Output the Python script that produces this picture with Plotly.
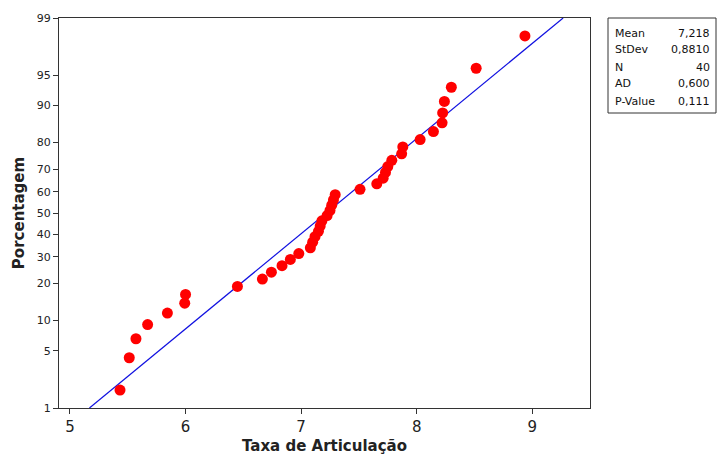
import plotly.graph_objects as go
from statistics import NormalDist

nd = NormalDist()

# Data
taxa = [5.433, 5.513, 5.571, 5.672, 5.843, 5.993, 6.00, 6.449, 6.665, 6.743,
        6.835, 6.907, 6.98, 7.08, 7.10, 7.12, 7.15, 7.165, 7.18, 7.225,
        7.25, 7.265, 7.28, 7.295, 7.51, 7.655, 7.71, 7.73, 7.75, 7.785,
        7.87, 7.88, 8.03, 8.145, 8.22, 8.225, 8.24, 8.30, 8.515, 8.937]
porcentagem = [1.73, 4.21, 6.68, 9.16, 11.63, 14.11, 16.58, 19.06, 21.53, 24.01,
               26.49, 28.96, 31.44, 33.91, 36.39, 38.86, 41.34, 43.81, 46.29, 48.76,
               51.24, 53.71, 56.19, 58.66, 61.14, 63.61, 66.09, 68.56, 71.04, 73.51,
               75.99, 78.47, 80.94, 83.42, 85.89, 88.37, 90.84, 93.32, 95.79, 98.27]

y_ticks = [1, 5, 10, 20, 30, 40, 50, 60, 70, 80, 90, 95, 99]
x_ticks = [5, 6, 7, 8, 9]

stat_names = ["Mean", "StDev", "N", "AD", "P-Value"]
stat_values = ["7,218", "0,8810", "40", "0,600", "0,111"]
mean_val = 7.218
sd_val = 0.8810
line_pcts = [1, 99]


def z(p):
    return nd.inv_cdf(p / 100.0)


fig = go.Figure()

# fitted line
fig.add_trace(go.Scatter(
    x=[mean_val + sd_val * z(p) for p in line_pcts],
    y=[z(p) for p in line_pcts],
    mode="lines", line=dict(color="#1010e0", width=1.2),
    hoverinfo="skip", showlegend=False))

fig.add_trace(go.Scatter(
    x=taxa, y=[z(p) for p in porcentagem],
    mode="markers", marker=dict(color="#ff0000", size=11),
    showlegend=False))

axis_color = "#333333"
fig.update_xaxes(
    range=[4.905, 9.50], tickvals=x_ticks, ticktext=[str(t) for t in x_ticks],
    showgrid=False, zeroline=False, showline=True, linecolor=axis_color, linewidth=1,
    mirror=True, ticks="outside", ticklen=5, tickcolor=axis_color, automargin=False,
    tickfont=dict(family="DejaVu Sans", size=15, color="#222222"),
    title=dict(text="<b>Taxa de Articulação</b>", standoff=6,
               font=dict(family="DejaVu Sans", size=15, color="#222222")))

fig.update_yaxes(
    range=[z(1), z(99)], tickvals=[z(t) for t in y_ticks], ticktext=[str(t) for t in y_ticks],
    showgrid=False, zeroline=False, showline=True, linecolor=axis_color, linewidth=1,
    mirror=True, ticks="outside", ticklen=5, tickcolor=axis_color, automargin=False,
    tickfont=dict(family="DejaVu Sans", size=11, color="#222222"),
    title=dict(text="<b>Porcentagem</b>", standoff=8,
               font=dict(family="DejaVu Sans", size=15, color="#222222")))

# stats box
fig.add_shape(type="rect", xref="paper", yref="paper",
              x0=1.0339, x1=1.2373, y0=0.7564, y1=1.0,
              line=dict(color="#333333", width=1), fillcolor="white")
row_y = [0.9615, 0.918, 0.874, 0.831, 0.787]
for name, val, yy in zip(stat_names, stat_values, row_y):
    fig.add_annotation(text=name, xref="paper", yref="paper", x=1.0433, y=yy,
                       xanchor="left", yanchor="middle", showarrow=False,
                       font=dict(family="DejaVu Sans", size=11, color="#111111"))
    fig.add_annotation(text=val, xref="paper", yref="paper", x=1.2298, y=yy,
                       xanchor="right", yanchor="middle", showarrow=False,
                       font=dict(family="DejaVu Sans", size=11, color="#111111"))

fig.update_layout(
    width=717, height=455,
    margin=dict(l=59, r=127, t=18, b=47),
    plot_bgcolor="white", paper_bgcolor="white",
    showlegend=False)

fig.write_html(
    "out.html",
    config={"displayModeBar": False},
    post_script="document.body.style.margin='0';document.body.style.overflow='hidden';")
